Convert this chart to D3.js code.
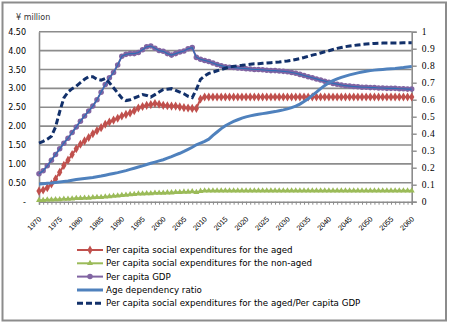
<!DOCTYPE html>
<meta charset="utf-8">

<!-- Load d3.js -->
<script src="https://d3js.org/d3.v7.min.js"></script>

<style>
  body { margin: 0; background: #fff; }
  text { font-family: "DejaVu Sans", Verdana, sans-serif; fill: #000; }
</style>

<div id="my_dataviz"></div>

<script>
// categories: one per year
var years = d3.range(1970, 2061);

// Per capita social expenditures for the aged (million yen)
var aged = [
  0.28, 0.31, 0.37, 0.47, 0.60, 0.78, 0.96, 1.10, 1.25, 1.40,
  1.52, 1.61, 1.70, 1.80, 1.88, 1.96, 2.05, 2.11, 2.16, 2.21,
  2.27, 2.31, 2.35, 2.41, 2.48, 2.52, 2.55, 2.57, 2.60, 2.58,
  2.55, 2.54, 2.53, 2.53, 2.51, 2.49, 2.48, 2.47, 2.47, 2.72,
  2.77, 2.77, 2.77, 2.77, 2.77, 2.77, 2.77, 2.77, 2.77, 2.77,
  2.77, 2.77, 2.77, 2.77, 2.77, 2.77, 2.77, 2.77, 2.77, 2.77,
  2.77, 2.77, 2.77, 2.77, 2.77, 2.77, 2.77, 2.77, 2.77, 2.77,
  2.77, 2.77, 2.77, 2.77, 2.77, 2.77, 2.77, 2.77, 2.77, 2.77,
  2.77, 2.77, 2.77, 2.77, 2.77, 2.77, 2.77, 2.77, 2.77, 2.77,
  2.77
];

// Per capita social expenditures for the non-aged (million yen)
var nonAged = [
  0.04, 0.04, 0.05, 0.05, 0.06, 0.06, 0.07, 0.07, 0.08, 0.09,
  0.09, 0.10, 0.10, 0.11, 0.12, 0.12, 0.13, 0.14, 0.15, 0.16,
  0.17, 0.18, 0.19, 0.20, 0.21, 0.21, 0.22, 0.22, 0.23, 0.23,
  0.23, 0.24, 0.24, 0.25, 0.25, 0.26, 0.26, 0.27, 0.25, 0.28,
  0.29, 0.29, 0.29, 0.29, 0.29, 0.29, 0.29, 0.29, 0.29, 0.29,
  0.29, 0.29, 0.29, 0.29, 0.29, 0.29, 0.29, 0.29, 0.29, 0.29,
  0.29, 0.29, 0.29, 0.29, 0.29, 0.29, 0.29, 0.29, 0.29, 0.29,
  0.29, 0.29, 0.29, 0.29, 0.29, 0.29, 0.29, 0.29, 0.29, 0.29,
  0.29, 0.29, 0.29, 0.29, 0.29, 0.29, 0.29, 0.29, 0.29, 0.29,
  0.29
];

// Per capita GDP (million yen)
var gdp = [
  0.74, 0.82, 0.95, 1.10, 1.25, 1.40, 1.55, 1.68, 1.83, 1.98,
  2.13, 2.27, 2.40, 2.53, 2.70, 2.90, 3.10, 3.28, 3.42, 3.62,
  3.85, 3.90, 3.92, 3.92, 3.95, 4.02, 4.10, 4.12, 4.06, 4.00,
  3.98, 3.92, 3.88, 3.92, 3.96, 3.99, 4.05, 4.08, 3.82, 3.77,
  3.74, 3.71, 3.67, 3.63, 3.60, 3.57, 3.56, 3.55, 3.54, 3.53,
  3.52, 3.51, 3.50, 3.50, 3.49, 3.48, 3.47, 3.47, 3.46, 3.45,
  3.44, 3.42, 3.40, 3.37, 3.34, 3.31, 3.28, 3.25, 3.22, 3.19,
  3.16, 3.13, 3.11, 3.09, 3.07, 3.06, 3.05, 3.04, 3.03, 3.03,
  3.02, 3.02, 3.01, 3.01, 3.00, 3.00, 3.00, 2.99, 2.99, 2.98,
  2.98
];

// Age dependency ratio (right axis)
var dependency = [
  0.104, 0.106, 0.108, 0.110, 0.113, 0.116, 0.119, 0.122, 0.126, 0.130,
  0.134, 0.137, 0.140, 0.143, 0.147, 0.151, 0.156, 0.161, 0.166, 0.171,
  0.177, 0.183, 0.190, 0.197, 0.204, 0.211, 0.219, 0.226, 0.233, 0.240,
  0.247, 0.256, 0.265, 0.275, 0.285, 0.296, 0.308, 0.320, 0.335, 0.345,
  0.355, 0.368, 0.390, 0.410, 0.430, 0.447, 0.460, 0.472, 0.482, 0.492,
  0.499, 0.505, 0.510, 0.514, 0.518, 0.522, 0.526, 0.530, 0.535, 0.540,
  0.546, 0.553, 0.562, 0.574, 0.590, 0.606, 0.625, 0.645, 0.665, 0.683,
  0.700, 0.712, 0.722, 0.731, 0.739, 0.746, 0.752, 0.758, 0.763, 0.767,
  0.771, 0.774, 0.776, 0.778, 0.780, 0.782, 0.784, 0.787, 0.789, 0.792,
  0.795
];

// Aged expenditures / GDP (right axis)
var agedToGdp = [
  0.345, 0.355, 0.368, 0.385, 0.440, 0.530, 0.610, 0.645, 0.665, 0.680,
  0.700, 0.720, 0.735, 0.735, 0.720, 0.715, 0.725, 0.700, 0.670, 0.640,
  0.610, 0.595, 0.600, 0.610, 0.620, 0.630, 0.625, 0.615, 0.630, 0.645,
  0.660, 0.662, 0.665, 0.655, 0.645, 0.635, 0.620, 0.612, 0.660, 0.720,
  0.740, 0.755, 0.762, 0.770, 0.778, 0.785, 0.792, 0.796, 0.800, 0.802,
  0.805, 0.808, 0.811, 0.812, 0.814, 0.816, 0.818, 0.820, 0.822, 0.825,
  0.828, 0.832, 0.837, 0.842, 0.848, 0.855, 0.862, 0.868, 0.875, 0.882,
  0.888, 0.895, 0.902, 0.907, 0.912, 0.916, 0.919, 0.922, 0.925, 0.927,
  0.929, 0.931, 0.932, 0.933, 0.934, 0.934, 0.934, 0.934, 0.935, 0.935,
  0.935
];

var leftTicks = [0, 0.5, 1, 1.5, 2, 2.5, 3, 3.5, 4, 4.5];
var rightTicks = [0, 0.1, 0.2, 0.3, 0.4, 0.5, 0.6, 0.7, 0.8, 0.9, 1];
var yearLabels = d3.range(1970, 2061, 5);

var legendLabels = [
  "Per capita  social expenditures  for the aged",
  "Per capita  social expenditures  for the non-aged",
  "Per capita  GDP",
  "Age dependency  ratio",
  "Per capita  social expenditures  for the aged/Per capita GDP"
];

// set the dimensions of the graph
var width = 453, height = 323;
var plot = {left: 39, right: 411.7, top: 31.7, bottom: 201.7};

var svg = d3.select("#my_dataviz")
  .append("svg")
    .attr("width", width)
    .attr("height", height);

// outer chart frame
svg.append("rect")
  .attr("x", 2.5).attr("y", 2.5)
  .attr("width", 443.5).attr("height", 318)
  .attr("fill", "#fff")
  .attr("stroke", "#8c8c8c")
  .attr("stroke-width", 2);

// scales
var x = d3.scalePoint()
  .domain(years)
  .range([plot.left, plot.right]);
var y = d3.scaleLinear()
  .domain([0, 4.5])
  .range([plot.bottom, plot.top]);
var y2 = d3.scaleLinear()
  .domain([0, 1])
  .range([plot.bottom, plot.top]);

// horizontal gridlines from the left axis
svg.append("g")
  .selectAll("line")
  .data(leftTicks.filter(function(d){ return d > 0; }))
  .enter()
  .append("line")
    .attr("x1", plot.left).attr("x2", plot.right)
    .attr("y1", function(d){ return y(d); })
    .attr("y2", function(d){ return y(d); })
    .attr("stroke", "#8c8c8c")
    .attr("stroke-width", 1.6);

// Left axis
var yAxis = svg.append("g")
  .attr("transform", "translate(" + plot.left + ",0)")
  .call(d3.axisLeft(y)
    .tickValues(leftTicks)
    .tickSize(0)
    .tickPadding(13)
    .tickFormat(function(d){ return d === 0 ? "-" : d3.format(".2f")(d); }));
yAxis.select(".domain").attr("stroke", "#8c8c8c").attr("stroke-width", 1.6);
yAxis.selectAll("text").style("font-size", "8px").style("font-family", "DejaVu Sans");

// Right axis
var y2Axis = svg.append("g")
  .attr("transform", "translate(" + plot.right + ",0)")
  .call(d3.axisRight(y2)
    .tickValues(rightTicks)
    .tickSize(5)
    .tickPadding(5)
    .tickFormat(function(d){ return d3.format("")(+d.toFixed(1)); }));
y2Axis.select(".domain").attr("stroke", "#8c8c8c").attr("stroke-width", 1.6);
y2Axis.selectAll(".tick line").attr("stroke", "#8c8c8c").attr("stroke-width", 1.4);
y2Axis.selectAll("text")
  .style("font-size", "9.5px")
  .style("font-family", "Liberation Serif")
  .style("letter-spacing", "0.6px");

// X axis: a small tick under every year, labels every 5 years
var xAxis = svg.append("g")
  .attr("transform", "translate(0," + plot.bottom + ")")
  .call(d3.axisBottom(x)
    .tickSize(3)
    .tickFormat(""));
xAxis.select(".domain").attr("stroke", "#8c8c8c").attr("stroke-width", 1.6);
xAxis.selectAll(".tick line").attr("stroke", "#8c8c8c");

svg.append("g")
  .selectAll("text")
  .data(yearLabels)
  .enter()
  .append("text")
    .attr("transform", function(d){ return "translate(" + (x(d) + 1) + "," + (plot.bottom + 16) + ")rotate(-45)"; })
    .attr("text-anchor", "end")
    .attr("dy", "0.35em")
    .style("font-size", "7.3px")
    .style("font-family", "Liberation Sans")
    .text(function(d){ return d; });

// unit label
svg.append("text")
  .attr("x", 16).attr("y", 20)
  .style("font-size", "8px")
  .style("fill", "#333")
  .text("¥ million");

// line generators
var lineLeft = d3.line()
  .x(function(d, i){ return x(years[i]); })
  .y(function(d){ return y(d); });
var lineRight = d3.line()
  .x(function(d, i){ return x(years[i]); })
  .y(function(d){ return y2(d); });

var symDiamond = d3.symbol().type(d3.symbolDiamond).size(24);
var symTriangle = d3.symbol().type(d3.symbolTriangle).size(16);
var symCircle = d3.symbol().type(d3.symbolCircle).size(24);

var series = [
  {values: aged, line: lineLeft, scale: y, color: "#c0504d", width: 2, sym: symDiamond},
  {values: nonAged, line: lineLeft, scale: y, color: "#9bbb59", width: 2, sym: symTriangle},
  {values: gdp, line: lineLeft, scale: y, color: "#8064a2", width: 2, sym: symCircle, inner: "#2f6db5"},
  {values: dependency, line: lineRight, scale: y2, color: "#4f81bd", width: 3},
  {values: agedToGdp, line: lineRight, scale: y2, color: "#12306a", width: 3, dash: "6,3"}
];

var marks = svg.append("g");

series.forEach(function(s){
  marks.append("path")
    .datum(s.values)
    .attr("fill", "none")
    .attr("stroke", s.color)
    .attr("stroke-width", s.width)
    .attr("stroke-dasharray", s.dash || null)
    .attr("d", s.line);

  if (s.sym) {
    marks.append("g")
      .selectAll("path")
      .data(s.values)
      .enter()
      .append("path")
        .attr("transform", function(d, i){ return "translate(" + x(years[i]) + "," + s.scale(d) + ")"; })
        .attr("d", s.sym)
        .attr("fill", s.color);
  }

  // GDP has a thin blue line running through its markers
  if (s.inner) {
    marks.append("path")
      .datum(s.values)
      .attr("fill", "none")
      .attr("stroke", s.inner)
      .attr("stroke-width", 1.2)
      .attr("d", s.line);
  }
});

// Legend
var legend = svg.append("g");
var rowY = [250, 263.3, 276.6, 290, 303.3];

series.forEach(function(s, i){
  var row = legend.append("g").attr("transform", "translate(0," + rowY[i] + ")");
  row.append("line")
    .attr("x1", 77).attr("x2", 103)
    .attr("stroke", s.color)
    .attr("stroke-width", s.width)
    .attr("stroke-dasharray", s.dash || null);
  if (s.sym) {
    row.append("path")
      .attr("transform", "translate(90,0)")
      .attr("d", s.sym)
      .attr("fill", s.color);
  }
  row.append("text")
    .attr("x", 106)
    .attr("dy", "0.35em")
    .style("font-size", "8.7px")
    .text(legendLabels[i]);
});
</script>
